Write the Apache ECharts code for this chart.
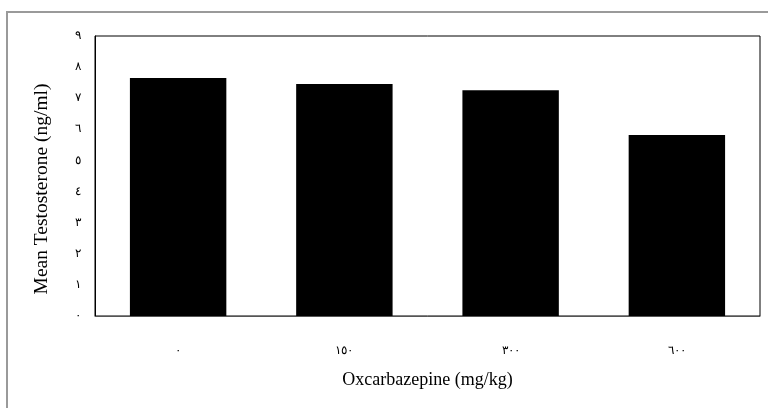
<!DOCTYPE html>
<html>
<head>
<meta charset="utf-8">
<script src="https://cdn.jsdelivr.net/npm/echarts@6/dist/echarts.min.js"></script>
<style>
html,body{margin:0;padding:0;background:#fff;}
#c{width:768px;height:408px;}
</style>
</head>
<body>
<div id="c"></div>
<script>
var categories = ['٠', '١٥٠', '٣٠٠', '٦٠٠'];
var values = [7.65, 7.46, 7.26, 5.82];
var yTickLabels = ['٠', '١', '٢', '٣', '٤', '٥', '٦', '٧', '٨', '٩'];
var xAxisTitle = 'Oxcarbazepine (mg/kg)';
var yAxisTitle = 'Mean Testosterone (ng/ml)';

var chart = echarts.init(document.getElementById('c'), null, {renderer: 'canvas'});
var serif = '"Liberation Serif", "DejaVu Serif", serif';
chart.setOption({
  animation: false,
  backgroundColor: '#fff',
  graphic: [
    {type: 'polyline', shape: {points: [[7, 408], [7, 12], [768, 12]]},
     style: {stroke: '#9a9a9a', lineWidth: 2, fill: null}, silent: true}
  ],
  grid: {left: 95, right: 8, top: 36, bottom: 92, show: true, borderColor: '#000', borderWidth: 1, containLabel: false},
  xAxis: {
    type: 'category',
    data: categories,
    axisLine: {show: true, lineStyle: {color: '#555', width: 1}},
    axisTick: {show: false},
    axisLabel: {color: '#000', fontFamily: serif, fontSize: 12, margin: 29},
    name: xAxisTitle,
    nameLocation: 'middle',
    nameGap: 55,
    nameTextStyle: {color: '#000', fontFamily: serif, fontSize: 18}
  },
  yAxis: {
    type: 'value',
    min: 0,
    max: 9,
    interval: 1,
    axisLine: {show: true, lineStyle: {color: '#000', width: 1}},
    axisTick: {show: false},
    splitLine: {show: false},
    axisLabel: {color: '#000', fontFamily: serif, fontSize: 12, margin: 14,
      formatter: function (v) { return yTickLabels[Math.round(v)]; }},
    name: yAxisTitle,
    nameLocation: 'middle',
    nameGap: 43,
    nameTextStyle: {color: '#000', fontFamily: serif, fontSize: 19.5, padding: [0, 26, 0, 0]}
  },
  series: [{
    type: 'bar',
    data: values,
    barWidth: '58%',
    itemStyle: {color: '#000'}
  }]
});
</script>
</body>
</html>
